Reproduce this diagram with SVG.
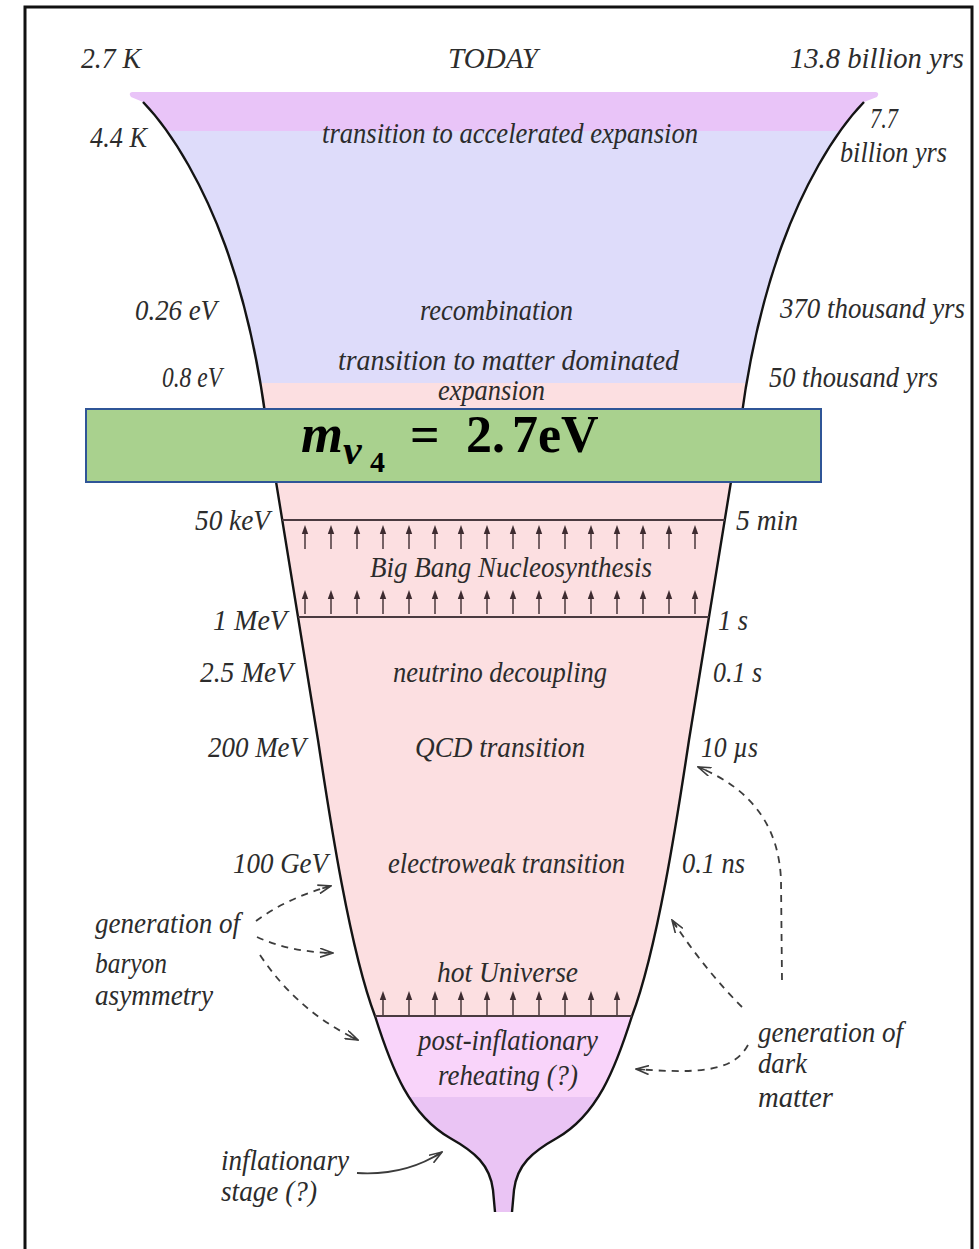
<svg xmlns="http://www.w3.org/2000/svg" width="979" height="1249" viewBox="0 0 979 1249">
<defs>
<style>
.lbl{font-family:"Liberation Serif","Times New Roman",serif;font-style:italic;font-size:29px;fill:#2c2c2c}
.wall{fill:none;stroke:#141414;stroke-width:2.4;stroke-linejoin:round}
.hl{stroke:#4a3a40;stroke-width:2}
.dash{fill:none;stroke:#3c3c3c;stroke-width:1.8;stroke-dasharray:7 6;marker-end:url(#oa)}
.solid{fill:none;stroke:#3c3c3c;stroke-width:1.8;marker-end:url(#oa)}
.ua{stroke:#3d2b30;stroke-width:1.4;fill:#3d2b30}
.math{font-family:"Liberation Serif","Times New Roman",serif;font-weight:bold;fill:#000}
</style>
<clipPath id="funnel">
<path d="M132,92 L876,92 Q880,93 877,97 L864,102 C832,135 802,190 782,245 C762,300 749,360 741,420 C724,525 707,630 689,740 C677,820 657,950 632,1016 C615,1070 597,1115 557,1138 C532,1152 517,1165 514,1190 L512,1212 L495,1212 L493,1190 C490,1165 475,1152 450,1138 C410,1115 392,1070 375,1016 C350,950 330,820 318,740 C300,630 283,525 266,420 C258,360 245,300 225,245 C205,190 175,135 143,102 L131,97 Q128,93 132,92 Z"/>
</clipPath>
<marker id="oa" viewBox="0 0 14 10" refX="13" refY="5" markerWidth="14" markerHeight="10" markerUnits="userSpaceOnUse" orient="auto">
<path d="M0,0.5 L13,5 L0,9.5 M4,5 L13,5" fill="none" stroke="#3c3c3c" stroke-width="1.6" stroke-dasharray="none"/>
</marker>
<g id="ua" class="ua">
<line x1="0" y1="7" x2="0" y2="24"/>
<path d="M0,0 L-3.2,9 L3.2,9 Z" stroke="none"/>
</g>
</defs>

<rect x="0" y="0" width="979" height="1249" fill="#ffffff"/>
<rect id="frame" x="25" y="7" width="947" height="1262" fill="none" stroke="#111" stroke-width="3"/>

<g id="funnel-body" clip-path="url(#funnel)">
<rect x="100" y="85" width="800" height="46" fill="#e9c4f8"/>
<rect x="100" y="131" width="800" height="252" fill="#dedcfa"/>
<rect x="100" y="383" width="800" height="633" fill="#fcdfe1"/>
<rect x="100" y="1016" width="800" height="81" fill="#f9d4fa"/>
<rect x="100" y="1097" width="800" height="120" fill="#eac4f4"/>
</g>

<g id="walls">
<path class="wall" d="M143,102 C175,135 205,190 225,245 C245,300 258,360 266,420 C283,525 300,630 318,740 C330,820 350,950 375,1016 C392,1070 410,1115 450,1138 C475,1152 490,1165 493,1190 L495,1212"/>
<path class="wall" d="M864,102 C832,135 802,190 782,245 C762,300 749,360 741,420 C724,525 707,630 689,740 C677,820 657,950 632,1016 C615,1070 597,1115 557,1138 C532,1152 517,1165 514,1190 L512,1212"/>
</g>

<g id="epoch-lines">
<line class="hl" x1="282" y1="520" x2="725" y2="520"/>
<line class="hl" x1="298" y1="617" x2="709" y2="617"/>
<line class="hl" x1="375" y1="1016" x2="632" y2="1016"/>
</g>

<g id="bbn-arrows">
<use href="#ua" x="305" y="525"/><use href="#ua" x="331" y="525"/><use href="#ua" x="357" y="525"/><use href="#ua" x="383" y="525"/>
<use href="#ua" x="409" y="525"/><use href="#ua" x="435" y="525"/><use href="#ua" x="461" y="525"/><use href="#ua" x="487" y="525"/>
<use href="#ua" x="513" y="525"/><use href="#ua" x="539" y="525"/><use href="#ua" x="565" y="525"/><use href="#ua" x="591" y="525"/>
<use href="#ua" x="617" y="525"/><use href="#ua" x="643" y="525"/><use href="#ua" x="669" y="525"/><use href="#ua" x="695" y="525"/>
<use href="#ua" x="305" y="590"/><use href="#ua" x="331" y="590"/><use href="#ua" x="357" y="590"/><use href="#ua" x="383" y="590"/>
<use href="#ua" x="409" y="590"/><use href="#ua" x="435" y="590"/><use href="#ua" x="461" y="590"/><use href="#ua" x="487" y="590"/>
<use href="#ua" x="513" y="590"/><use href="#ua" x="539" y="590"/><use href="#ua" x="565" y="590"/><use href="#ua" x="591" y="590"/>
<use href="#ua" x="617" y="590"/><use href="#ua" x="643" y="590"/><use href="#ua" x="669" y="590"/><use href="#ua" x="695" y="590"/>
</g>
<g id="hot-arrows">
<use href="#ua" x="383" y="991"/><use href="#ua" x="409" y="991"/><use href="#ua" x="435" y="991"/><use href="#ua" x="461" y="991"/>
<use href="#ua" x="487" y="991"/><use href="#ua" x="513" y="991"/><use href="#ua" x="539" y="991"/><use href="#ua" x="565" y="991"/>
<use href="#ua" x="591" y="991"/><use href="#ua" x="617" y="991"/>
</g>

<g id="connectors">
<path class="dash" d="M256,921 Q287,898 331,886"/>
<path class="dash" d="M257,937 Q290,952 333,953"/>
<path class="dash" d="M260,955 Q298,1012 358,1040"/>
<path class="dash" d="M782,980 L781,880 C779,830 755,790 698,767"/>
<path class="dash" d="M742,1007 Q705,970 672,920"/>
<path class="dash" d="M748,1045 C735,1068 710,1075 636,1069"/>
<path class="solid" d="M357,1173 Q405,1176 442,1152"/>
</g>

<g id="top-labels">
<text class="lbl" x="81" y="68" textLength="60" lengthAdjust="spacingAndGlyphs">2.7 K</text>
<text class="lbl" x="448" y="68" textLength="90" lengthAdjust="spacingAndGlyphs">TODAY</text>
<text class="lbl" x="790" y="68" textLength="174" lengthAdjust="spacingAndGlyphs">13.8 billion yrs</text>
</g>

<g id="left-labels">
<text class="lbl" x="90" y="147" textLength="57" lengthAdjust="spacingAndGlyphs">4.4 K</text>
<text class="lbl" x="135" y="320" textLength="82" lengthAdjust="spacingAndGlyphs">0.26 eV</text>
<text class="lbl" x="162" y="387" textLength="60" lengthAdjust="spacingAndGlyphs">0.8 eV</text>
<text class="lbl" x="195" y="530" textLength="75" lengthAdjust="spacingAndGlyphs">50 keV</text>
<text class="lbl" x="213" y="630" textLength="74" lengthAdjust="spacingAndGlyphs">1 MeV</text>
<text class="lbl" x="200" y="682" textLength="93" lengthAdjust="spacingAndGlyphs">2.5 MeV</text>
<text class="lbl" x="208" y="757" textLength="98" lengthAdjust="spacingAndGlyphs">200 MeV</text>
<text class="lbl" x="233" y="873" textLength="95" lengthAdjust="spacingAndGlyphs">100 GeV</text>
</g>

<g id="right-labels">
<text class="lbl" x="870" y="128" textLength="28" lengthAdjust="spacingAndGlyphs">7.7</text>
<text class="lbl" x="840" y="162" textLength="107" lengthAdjust="spacingAndGlyphs">billion yrs</text>
<text class="lbl" x="780" y="318" textLength="185" lengthAdjust="spacingAndGlyphs">370 thousand yrs</text>
<text class="lbl" x="769" y="387" textLength="169" lengthAdjust="spacingAndGlyphs">50 thousand yrs</text>
<text class="lbl" x="736" y="530" textLength="62" lengthAdjust="spacingAndGlyphs">5 min</text>
<text class="lbl" x="718" y="630" textLength="30" lengthAdjust="spacingAndGlyphs">1 s</text>
<text class="lbl" x="713" y="682" textLength="49" lengthAdjust="spacingAndGlyphs">0.1 s</text>
<text class="lbl" x="701" y="757" textLength="57" lengthAdjust="spacingAndGlyphs">10 µs</text>
<text class="lbl" x="682" y="873" textLength="63" lengthAdjust="spacingAndGlyphs">0.1 ns</text>
</g>

<g id="epoch-labels">
<text class="lbl" x="322" y="143" textLength="376" lengthAdjust="spacingAndGlyphs">transition to accelerated expansion</text>
<text class="lbl" x="420" y="320" textLength="153" lengthAdjust="spacingAndGlyphs">recombination</text>
<text class="lbl" x="338" y="370" textLength="341" lengthAdjust="spacingAndGlyphs">transition to matter dominated</text>
<text class="lbl" x="438" y="400" textLength="107" lengthAdjust="spacingAndGlyphs">expansion</text>
<text class="lbl" x="370" y="577" textLength="282" lengthAdjust="spacingAndGlyphs">Big Bang Nucleosynthesis</text>
<text class="lbl" x="393" y="682" textLength="214" lengthAdjust="spacingAndGlyphs">neutrino decoupling</text>
<text class="lbl" x="415" y="757" textLength="170" lengthAdjust="spacingAndGlyphs">QCD transition</text>
<text class="lbl" x="388" y="873" textLength="237" lengthAdjust="spacingAndGlyphs">electroweak transition</text>
<text class="lbl" x="437" y="982" textLength="141" lengthAdjust="spacingAndGlyphs">hot Universe</text>
<text class="lbl" x="418" y="1050" textLength="180" lengthAdjust="spacingAndGlyphs">post-inflationary</text>
<text class="lbl" x="438" y="1085" textLength="140" lengthAdjust="spacingAndGlyphs">reheating (?)</text>
</g>

<g id="baryon-note">
<text class="lbl" x="95" y="933" textLength="145" lengthAdjust="spacingAndGlyphs">generation of</text>
<text class="lbl" x="95" y="973" textLength="72" lengthAdjust="spacingAndGlyphs">baryon</text>
<text class="lbl" x="95" y="1005" textLength="118" lengthAdjust="spacingAndGlyphs">asymmetry</text>
</g>

<g id="dark-matter-note">
<text class="lbl" x="758" y="1042" textLength="145" lengthAdjust="spacingAndGlyphs">generation of</text>
<text class="lbl" x="758" y="1073" textLength="49" lengthAdjust="spacingAndGlyphs">dark</text>
<text class="lbl" x="758" y="1107" textLength="75" lengthAdjust="spacingAndGlyphs">matter</text>
</g>

<g id="inflation-note">
<text class="lbl" x="221" y="1170" textLength="128" lengthAdjust="spacingAndGlyphs">inflationary</text>
<text class="lbl" x="221" y="1201" textLength="96" lengthAdjust="spacingAndGlyphs">stage (?)</text>
</g>

<g id="mass-box">
<rect x="86" y="409" width="735" height="73" fill="#a9d18e" stroke="#2f5597" stroke-width="2"/>
<text class="math" x="301" y="452" font-size="54" font-style="italic">m</text>
<text class="math" x="343" y="464" font-size="42" font-style="italic">ν</text>
<text class="math" x="370" y="472" font-size="30">4</text>
<text class="math" y="452" font-size="52"><tspan x="410">=</tspan><tspan x="466">2.</tspan><tspan x="512">7eV</tspan></text>
</g>
</svg>
